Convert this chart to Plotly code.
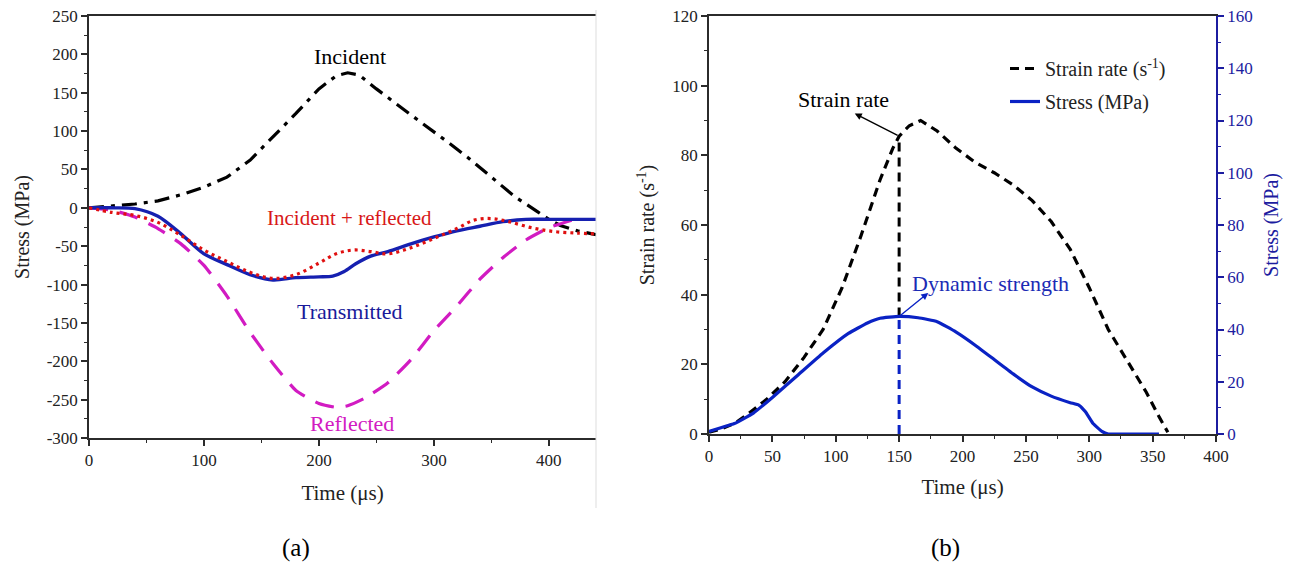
import plotly.graph_objects as go

# ---------------- (a) SHPB stress waves ----------------
inc_t = [0, 20, 40, 60, 80, 100, 120, 140, 160, 180, 200, 215, 225, 235, 250, 270, 290, 310, 330, 350, 370, 390, 400, 410, 425, 441]
inc_s = [0, 2, 5, 9, 17, 27, 40, 62, 92, 123, 155, 172, 176, 173, 155, 132, 110, 88, 65, 40, 15, -5, -15, -23, -30, -35]

ref_t = [0, 20, 40, 60, 80, 100, 120, 140, 160, 180, 200, 215, 225, 240, 260, 280, 300, 320, 340, 360, 380, 400, 420]
ref_s = [0, -3, -12, -27, -47, -75, -115, -162, -203, -238, -255, -260, -258, -248, -228, -198, -160, -128, -93, -65, -42, -26, -16]

tra_t = [0, 20, 40, 60, 80, 100, 120, 140, 160, 180, 200, 212, 222, 232, 245, 260, 280, 300, 320, 340, 360, 380, 400, 420, 441]
tra_s = [0, 0, -1, -11, -34, -60, -74, -87, -94, -91, -90, -89, -83, -73, -63, -57, -47, -38, -30, -24, -18, -15, -15, -15, -15]

sum_t = [0, 20, 40, 60, 80, 100, 120, 140, 160, 180, 200, 215, 230, 245, 260, 280, 300, 320, 335, 350, 365, 385, 405, 425, 441]
sum_s = [0, -6, -10, -19, -36, -55, -70, -84, -92, -87, -72, -60, -55, -57, -60, -52, -40, -27, -16, -14, -18, -26, -31, -33, -34]

stress_ticks = [250, 200, 150, 100, 50, 0, -50, -100, -150, -200, -250, -300]
stress_labels = ["250", "200", "150", "100", "50", "0", "-50", "-100", "-150", "-200", "-250", "-300"]

# ---------------- (b) strain rate and stress histories ----------------
sr_t = [0, 10, 20, 30, 45, 60, 75, 90, 105, 120, 135, 145, 150, 158, 167, 180, 195, 210, 225, 240, 255, 270, 285, 300, 315, 330, 345, 355, 362]
sr_v = [0.5, 1.5, 3, 5.5, 9.8, 15, 22, 30, 42, 57, 73, 82, 85.5, 88.5, 90, 87, 82, 78, 75, 71.5, 67, 61, 53, 42, 30, 21, 12, 5, 0.5]

st_t = [0, 10, 20, 35, 50, 70, 90, 110, 125, 135, 150, 165, 180, 195, 210, 225, 240, 255, 270, 285, 292, 297, 303, 310, 315, 335, 355]
st_s = [1, 2.5, 4, 8, 14, 22.5, 31, 38.5, 42.5, 44.3, 45, 44.5, 43, 39, 34, 28.5, 23, 18, 14.5, 12, 11, 8.5, 4, 1, 0, 0, 0]

peak_t = 150  # time of dynamic strength (peak stress)

SERIF = "Liberation Serif"
AXIS_COL = "#2b2b2b"
NAVY = "#1c1ca0"
BLUE = "#0a22c4"

peak_stress = st_s[st_t.index(peak_t)]
peak_rate = sr_v[sr_t.index(peak_t)]
stress_range = [0, 160]
rate_range = [0, 120]
peak_stress_on_rate = peak_stress * rate_range[1] / stress_range[1]

fig = go.Figure()

fig.add_trace(go.Scatter(x=inc_t, y=inc_s, mode="lines", name="Incident",
                         line=dict(color="black", width=3.2, dash="15px,7px,4px,7px"),
                         xaxis="x", yaxis="y", showlegend=False))
fig.add_trace(go.Scatter(x=ref_t, y=ref_s, mode="lines", name="Reflected",
                         line=dict(color="#d21bc2", width=3.2, dash="19px,12px", shape="spline", smoothing=0.5),
                         xaxis="x", yaxis="y", showlegend=False))
fig.add_trace(go.Scatter(x=tra_t, y=tra_s, mode="lines", name="Transmitted",
                         line=dict(color="#1620b0", width=3.4, shape="spline", smoothing=0.8),
                         xaxis="x", yaxis="y", showlegend=False))
fig.add_trace(go.Scatter(x=sum_t, y=sum_s, mode="lines", name="Incident + reflected",
                         line=dict(color="#e01010", width=3.2, dash="3px,4px", shape="spline"),
                         xaxis="x", yaxis="y", showlegend=False))

fig.add_trace(go.Scatter(x=sr_t, y=sr_v, mode="lines", name="Strain rate (s<sup>-1</sup>)",
                         line=dict(color="black", width=3.2, dash="9px,6px"),
                         xaxis="x2", yaxis="y2", legend="legend"))
fig.add_trace(go.Scatter(x=st_t, y=st_s, mode="lines", name="Stress (MPa)",
                         line=dict(color=BLUE, width=3.2, shape="spline", smoothing=0.35),
                         xaxis="x2", yaxis="y3", legend="legend2"))

# vertical markers at the peak-stress instant
fig.add_trace(go.Scatter(x=[peak_t, peak_t], y=[peak_stress_on_rate, peak_rate], mode="lines",
                         line=dict(color="black", width=3, dash="9px,6px"),
                         xaxis="x2", yaxis="y2", showlegend=False, hoverinfo="skip"))
fig.add_trace(go.Scatter(x=[peak_t, peak_t], y=[0, peak_stress], mode="lines",
                         line=dict(color=BLUE, width=3, dash="9px,6px"),
                         xaxis="x2", yaxis="y3", showlegend=False, hoverinfo="skip"))

tick_font = dict(family=SERIF, size=17, color="#222")
title_font = dict(family=SERIF, size=20, color="#222")
xtitle_font = dict(family=SERIF, size=21, color="#222")

common = dict(showgrid=False, zeroline=False, showline=True, linecolor=AXIS_COL, linewidth=1.5,
              ticks="outside", ticklen=6, tickwidth=1.5, tickcolor=AXIS_COL, tickfont=tick_font,
              automargin=False)
minor = dict(ticks="outside", ticklen=3, tickwidth=1.2, tickcolor=AXIS_COL)

fig.update_layout(
    width=1290, height=568,
    margin=dict(l=0, r=0, t=0, b=0),
    paper_bgcolor="white", plot_bgcolor="white",
    font=dict(family=SERIF, color="#222"),
    xaxis=dict(domain=[89 / 1290, 596 / 1290], range=[0, 441], dtick=100, anchor="y",
               mirror=True, minor=dict(dtick=50, **minor),
               title=dict(text="Time (μs)", font=xtitle_font, standoff=16), **common),
    yaxis=dict(domain=[1 - 438 / 568, 1 - 16 / 568], range=[-300, 250], anchor="x",
               tickmode="array", tickvals=stress_ticks, ticktext=stress_labels,
               minor=dict(dtick=25, **minor),
               title=dict(text="Stress (MPa)", font=title_font, standoff=12), **common),
    xaxis2=dict(domain=[709 / 1290, 1216 / 1290], range=[0, 400], dtick=50, anchor="y2",
                mirror=True, minor=dict(dtick=25, **minor),
                title=dict(text="Time (μs)", font=xtitle_font, standoff=14), **common),
    yaxis2=dict(domain=[1 - 434 / 568, 1 - 16 / 568], range=rate_range, dtick=20, anchor="x2",
                minor=dict(dtick=10, **minor),
                title=dict(text="Strain rate (s<sup>-1</sup>)", font=title_font, standoff=12), **common),
    yaxis3=dict(overlaying="y2", side="right", anchor="x2", range=stress_range, dtick=20,
                showgrid=False, zeroline=False, showline=True, linecolor=NAVY, linewidth=1.5,
                ticks="outside", ticklen=6, tickwidth=1.5, tickcolor=NAVY, automargin=False,
                tickfont=dict(family=SERIF, size=17, color=NAVY),
                minor=dict(dtick=10, ticks="outside", ticklen=3, tickwidth=1.2, tickcolor=NAVY),
                title=dict(text="Stress (MPa)", font=dict(family=SERIF, size=20, color=NAVY), standoff=12)),
    legend=dict(x=1005 / 1290, y=1 - 49 / 568, xanchor="left", yanchor="top",
                bgcolor="rgba(0,0,0,0)", font=dict(family=SERIF, size=20, color="#222")),
    legend2=dict(x=1005 / 1290, y=1 - 82 / 568, xanchor="left", yanchor="top",
                 bgcolor="rgba(0,0,0,0)", font=dict(family=SERIF, size=20, color="#222")),
)

ann = [
    dict(x=227, y=197, xref="x", yref="y", text="Incident", font=dict(family=SERIF, size=22, color="black")),
    dict(x=227, y=-13, xref="x", yref="y", text="Incident + reflected", font=dict(family=SERIF, size=21, color="#d81818")),
    dict(x=227, y=-135, xref="x", yref="y", text="Transmitted", font=dict(family=SERIF, size=22, color="#1a1a9a")),
    dict(x=229, y=-281, xref="x", yref="y", text="Reflected", font=dict(family=SERIF, size=22, color="#d21bc2")),
    dict(x=106, y=96, xref="x2", yref="y2", text="Strain rate", font=dict(family=SERIF, size=22, color="black")),
    dict(x=222, y=57.8, xref="x2", yref="y3", text="Dynamic strength", font=dict(family=SERIF, size=22, color="#1b2bb5")),
    dict(x=296 / 1290, y=1 - 548 / 568, xref="paper", yref="paper", text="(a)", font=dict(family=SERIF, size=25, color="black")),
    dict(x=945 / 1290, y=1 - 548 / 568, xref="paper", yref="paper", text="(b)", font=dict(family=SERIF, size=25, color="black")),
]
for a in ann:
    fig.add_annotation(showarrow=False, xanchor="center", yanchor="middle", **a)

# pointer arrows
fig.add_annotation(x=115, y=92, ax=peak_t, ay=peak_rate, xref="x2", yref="y2", axref="x2", ayref="y2",
                   text="", showarrow=True, arrowhead=2, arrowsize=1, arrowwidth=1.4, arrowcolor="black")
fig.add_annotation(x=173, y=54, ax=peak_t, ay=peak_stress, xref="x2", yref="y3", axref="x2", ayref="y3",
                   text="", showarrow=True, arrowhead=2, arrowsize=1, arrowwidth=1.4, arrowcolor=BLUE)

# light frame edge on the right of panel (a)
fig.add_shape(type="line", xref="paper", yref="paper", x0=596 / 1290, x1=596 / 1290,
              y0=1 - 508 / 568, y1=1 - 10 / 568, line=dict(color="#dddddd", width=1))

fig.write_html("out.html")
